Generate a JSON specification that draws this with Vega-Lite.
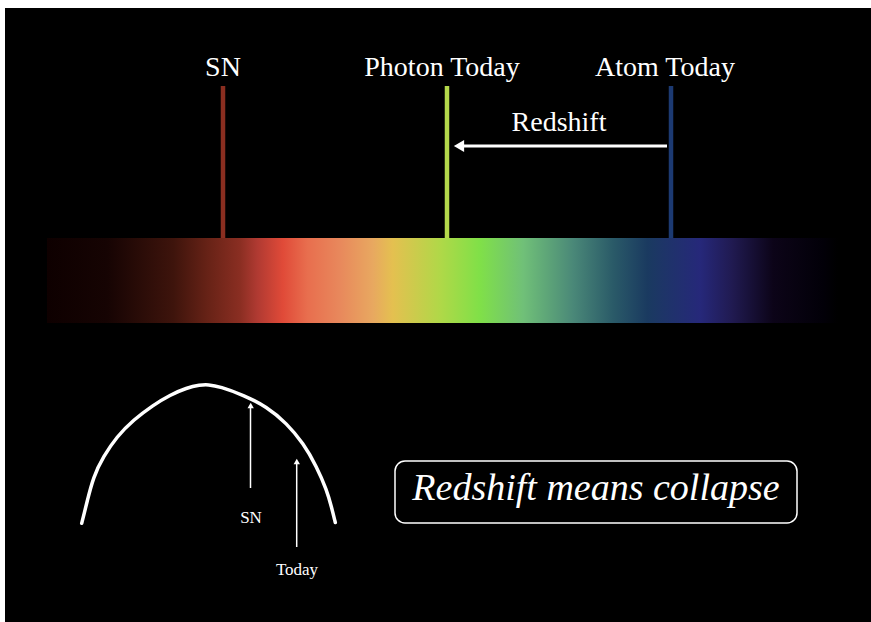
{
  "$schema": "https://vega.github.io/schema/vega-lite/v6.json",
  "width": 871,
  "height": 622,
  "padding": 0,
  "autosize": {"type": "fit", "contains": "padding"},
  "background": "#ffffff",
  "config": {"view": {"stroke": null}},
  "datasets": {
    "frame": [{"x": 5, "x2": 871, "y": 8, "y2": 622}],
    "spectrum": [{"x": 47, "x2": 838, "y": 238, "y2": 323}],
    "lines": [
      {"label": "SN", "x": 223, "y": 86, "y2": 238},
      {"label": "Photon Today", "x": 447, "y": 86, "y2": 238},
      {"label": "Atom Today", "x": 671, "y": 86, "y2": 238}
    ],
    "toplabels": [
      {"label": "SN", "x": 223, "y": 76},
      {"label": "Photon Today", "x": 442, "y": 76},
      {"label": "Atom Today", "x": 665, "y": 76},
      {"label": "Redshift", "x": 559, "y": 131}
    ],
    "shift": [{"x": 667, "x2": 458, "y": 146}],
    "shifthead": [{"x": 459, "y": 146}],
    "curve": [
      {"x": 81.7, "y": 523.3},
      {"x": 84.2, "y": 513.3},
      {"x": 86.7, "y": 503.3},
      {"x": 93.3, "y": 476.7},
      {"x": 103.3, "y": 456.7},
      {"x": 116.7, "y": 436.7},
      {"x": 133.3, "y": 420},
      {"x": 153.3, "y": 405},
      {"x": 170, "y": 395},
      {"x": 186.7, "y": 387.8},
      {"x": 200, "y": 384.9},
      {"x": 208, "y": 384.5},
      {"x": 220, "y": 386.5},
      {"x": 243.3, "y": 395},
      {"x": 266.7, "y": 406.7},
      {"x": 286.7, "y": 423.3},
      {"x": 303.3, "y": 443.3},
      {"x": 316.7, "y": 466.7},
      {"x": 326.7, "y": 490},
      {"x": 331.5, "y": 507},
      {"x": 335.3, "y": 522.5}
    ],
    "smallarrows": [
      {"name": "SN", "x": 250.5, "y": 488, "y2": 406},
      {"name": "Today", "x": 296.7, "y": 547, "y2": 463}
    ],
    "smallheads": [
      {"name": "SN", "x": 250.7, "y": 405.5},
      {"name": "Today", "x": 296.8, "y": 461.5}
    ],
    "smalllabels": [
      {"label": "SN", "x": 251, "y": 523},
      {"label": "Today", "x": 297, "y": 575}
    ],
    "box": [{"x": 395, "x2": 797, "y": 461, "y2": 523}],
    "boxtext": [{"label": "Redshift means collapse", "x": 596, "y": 500}]
  },
  "layer": [
    {
      "data": {"name": "frame"},
      "mark": {"type": "rect", "fill": "#000000"},
      "encoding": {
        "x": {"field": "x", "type": "quantitative", "scale": {"domain": [0, 871], "nice": false, "zero": false}, "axis": null},
        "x2": {"field": "x2"},
        "y": {"field": "y", "type": "quantitative", "scale": {"domain": [0, 622], "nice": false, "zero": false, "reverse": true}, "axis": null},
        "y2": {"field": "y2"}
      }
    },
    {
      "data": {"name": "spectrum"},
      "mark": {
        "type": "rect",
        "fill": {
          "gradient": "linear",
          "x1": 0, "x2": 1, "y1": 0, "y2": 0,
          "stops": [
            {"offset": 0.0, "color": "#0e0000"},
            {"offset": 0.076, "color": "#160403"},
            {"offset": 0.160, "color": "#3e140c"},
            {"offset": 0.202, "color": "#662216"},
            {"offset": 0.244, "color": "#8a2e22"},
            {"offset": 0.266, "color": "#b03a32"},
            {"offset": 0.298, "color": "#e04a38"},
            {"offset": 0.329, "color": "#e86e4e"},
            {"offset": 0.370, "color": "#e8885c"},
            {"offset": 0.412, "color": "#e8a860"},
            {"offset": 0.437, "color": "#e4c050"},
            {"offset": 0.497, "color": "#b0d848"},
            {"offset": 0.547, "color": "#80e048"},
            {"offset": 0.602, "color": "#70c078"},
            {"offset": 0.665, "color": "#4a8878"},
            {"offset": 0.716, "color": "#2a5a68"},
            {"offset": 0.759, "color": "#1a3a60"},
            {"offset": 0.826, "color": "#26287a"},
            {"offset": 0.867, "color": "#201a50"},
            {"offset": 0.918, "color": "#0c0418"},
            {"offset": 0.981, "color": "#020008"},
            {"offset": 1.0, "color": "#000000"}
          ]
        }
      },
      "encoding": {
        "x": {"field": "x", "type": "quantitative"},
        "x2": {"field": "x2"},
        "y": {"field": "y", "type": "quantitative"},
        "y2": {"field": "y2"}
      }
    },
    {
      "data": {"name": "lines"},
      "mark": {"type": "rule", "strokeWidth": 4.5},
      "encoding": {
        "x": {"field": "x", "type": "quantitative"},
        "y": {"field": "y", "type": "quantitative"},
        "y2": {"field": "y2"},
        "color": {
          "field": "label", "type": "nominal", "legend": null,
          "scale": {"domain": ["SN", "Photon Today", "Atom Today"], "range": ["#8a2e20", "#b4d84a", "#1c3a72"]}
        }
      }
    },
    {
      "data": {"name": "toplabels"},
      "mark": {"type": "text", "font": "Liberation Serif", "fontSize": 28, "fill": "#ffffff", "align": "center", "baseline": "alphabetic"},
      "encoding": {
        "x": {"field": "x", "type": "quantitative"},
        "y": {"field": "y", "type": "quantitative"},
        "text": {"field": "label"}
      }
    },
    {
      "data": {"name": "shift"},
      "mark": {"type": "rule", "strokeWidth": 3, "stroke": "#ffffff"},
      "encoding": {
        "x": {"field": "x", "type": "quantitative"},
        "x2": {"field": "x2"},
        "y": {"field": "y", "type": "quantitative"}
      }
    },
    {
      "data": {"name": "shifthead"},
      "mark": {"type": "point", "shape": "triangle-left", "size": 140, "filled": true, "fill": "#ffffff", "opacity": 1, "strokeWidth": 0},
      "encoding": {
        "x": {"field": "x", "type": "quantitative"},
        "y": {"field": "y", "type": "quantitative"}
      }
    },
    {
      "data": {"name": "curve"},
      "mark": {"type": "line", "stroke": "#ffffff", "strokeWidth": 3.5, "interpolate": "basis", "strokeCap": "round"},
      "encoding": {
        "x": {"field": "x", "type": "quantitative"},
        "y": {"field": "y", "type": "quantitative"}
      }
    },
    {
      "data": {"name": "smallarrows"},
      "mark": {"type": "rule", "strokeWidth": 1.5, "stroke": "#ffffff"},
      "encoding": {
        "x": {"field": "x", "type": "quantitative"},
        "y": {"field": "y", "type": "quantitative"},
        "y2": {"field": "y2"}
      }
    },
    {
      "data": {"name": "smallheads"},
      "mark": {"type": "point", "shape": "triangle-up", "size": 40, "filled": true, "fill": "#ffffff", "opacity": 1, "strokeWidth": 0},
      "encoding": {
        "x": {"field": "x", "type": "quantitative"},
        "y": {"field": "y", "type": "quantitative"}
      }
    },
    {
      "data": {"name": "smalllabels"},
      "mark": {"type": "text", "font": "Liberation Serif", "fontSize": 17, "fill": "#ffffff", "align": "center", "baseline": "alphabetic"},
      "encoding": {
        "x": {"field": "x", "type": "quantitative"},
        "y": {"field": "y", "type": "quantitative"},
        "text": {"field": "label"}
      }
    },
    {
      "data": {"name": "box"},
      "mark": {"type": "rect", "fill": "#000000", "stroke": "#ffffff", "strokeWidth": 1.5, "cornerRadius": 10},
      "encoding": {
        "x": {"field": "x", "type": "quantitative"},
        "x2": {"field": "x2"},
        "y": {"field": "y", "type": "quantitative"},
        "y2": {"field": "y2"}
      }
    },
    {
      "data": {"name": "boxtext"},
      "mark": {"type": "text", "font": "Liberation Serif", "fontStyle": "italic", "fontSize": 38, "fill": "#ffffff", "align": "center", "baseline": "alphabetic"},
      "encoding": {
        "x": {"field": "x", "type": "quantitative"},
        "y": {"field": "y", "type": "quantitative"},
        "text": {"field": "label"}
      }
    }
  ]
}
